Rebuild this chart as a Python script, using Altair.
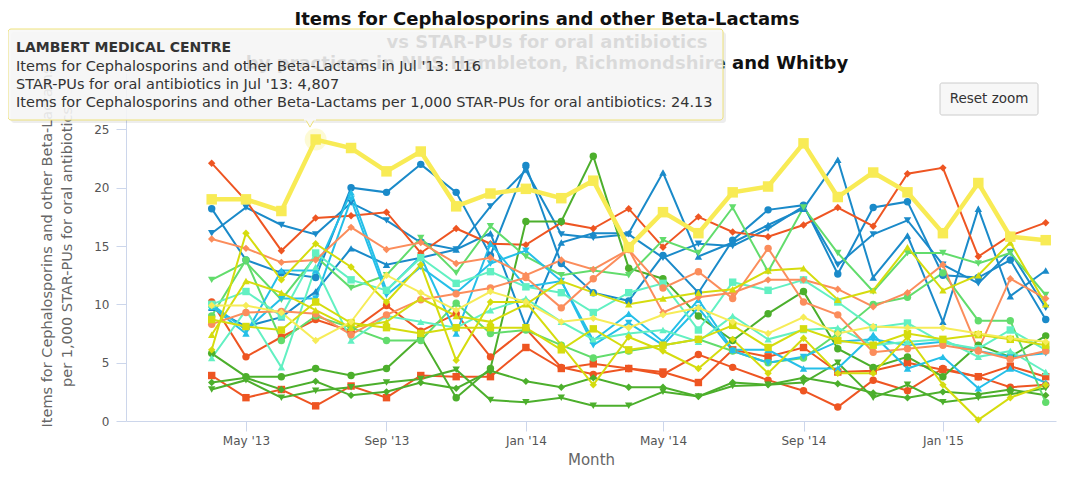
import altair as alt
import pandas as pd

# ---------------- data ----------------
months = ["2013-04-01", "2013-05-01", "2013-06-01", "2013-07-01", "2013-08-01",
          "2013-09-01", "2013-10-01", "2013-11-01", "2013-12-01", "2014-01-01",
          "2014-02-01", "2014-03-01", "2014-04-01", "2014-05-01", "2014-06-01",
          "2014-07-01", "2014-08-01", "2014-09-01", "2014-10-01", "2014-11-01",
          "2014-12-01", "2015-01-01", "2015-02-01", "2015-03-01", "2015-04-01"]

lambert = [19.0, 19.0, 18.0, 24.13, 23.4, 21.4, 23.1, 18.4, 19.5, 19.9, 19.1, 20.6, 14.9,
           17.9, 16.1, 19.6, 20.1, 23.8, 19.2, 21.3, 19.6, 16.1, 20.4, 15.8, 15.5]

blue_circle = [18.2, 13.8, 12.7, 12.3, 20.0, 19.6, 22.0, 19.6, 14.2, 21.9, 13.5, 11.0, 10.3,
               14.2, 11.0, 15.5, 18.1, 18.5, 12.6, 18.3, 18.8, 12.5, 12.3, 13.8, 8.7]
blue_tri_down = [16.1, 18.3, 16.8, 16.0, 18.7, 17.2, 15.3, 14.7, 18.4, 21.5, 16.0, 15.7, 16.0,
                 14.0, 15.2, 15.0, 16.5, 18.4, 13.4, 16.0, 17.2, 13.4, 11.8, 14.5, 9.7]
blue_tri = [9.7, 8.1, 8.9, 11.1, 14.8, 13.4, 14.0, 14.7, 16.1, 8.1, 15.3, 16.1, 16.1,
            21.3, 14.1, 15.3, 16.8, 18.2, 22.4, 12.3, 15.9, 8.5, 18.2, 10.7, 12.9]
red_diamond = [22.1, 18.9, 14.6, 17.4, 17.6, 17.9, 14.4, 16.5, 15.2, 15.1, 17.0, 16.5, 18.2,
               14.9, 17.5, 16.2, 15.8, 16.8, 18.3, 16.7, 21.2, 21.7, 14.1, 15.9, 17.0]
red_circle = [10.2, 5.5, 7.2, 8.7, 7.7, 9.9, 7.7, 9.2, 5.5, 7.9, 4.6, 4.0, 4.5,
              4.0, 5.7, 4.6, 3.5, 2.6, 1.2, 3.5, 2.6, 4.5, 3.8, 2.9, 3.1]
red_square = [3.9, 2.0, 2.7, 1.3, 3.0, 2.0, 3.9, 3.8, 3.8, 6.3, 4.5, 4.9, 4.5,
              4.2, 3.3, 6.1, 5.5, 6.3, 4.2, 4.3, 5.0, 4.4, 3.8, 4.7, 3.8]
green_circle = [5.8, 3.8, 3.8, 4.5, 3.9, 4.5, 7.2, 2.0, 4.5, 17.1, 17.1, 22.7, 13.1,
                12.2, 9.0, 6.9, 9.2, 11.1, 6.2, 4.6, 5.5, 3.8, 6.5, 5.5, 7.3]
green_diamond = [3.3, 3.7, 2.7, 3.4, 2.2, 2.5, 3.3, 2.8, 4.3, 3.4, 2.9, 3.7, 2.9,
                 2.9, 2.1, 3.3, 3.1, 3.7, 3.2, 2.4, 2.0, 2.5, 2.3, 2.7, 2.2]
green_tri_down = [2.7, 3.5, 2.0, 2.6, 2.9, 3.3, 3.6, 4.4, 1.8, 1.6, 2.0, 1.3, 1.3,
                  2.5, 2.1, 3.0, 3.1, 3.3, 5.0, 2.0, 3.1, 1.6, 2.0, 2.3, 2.8]
lgreen_tri_down = [12.1, 13.6, 10.4, 14.1, 11.4, 12.5, 15.7, 12.7, 16.7, 14.1, 12.5, 12.9, 12.5,
                   15.5, 14.4, 18.3, 12.8, 18.3, 14.4, 11.1, 14.4, 14.4, 13.5, 14.4, 10.8]
lgreen_circle = [9.0, 13.8, 6.9, 9.0, 8.0, 6.9, 6.9, 10.1, 7.5, 7.8, 6.5, 5.4, 6.0,
                 6.5, 7.0, 6.0, 5.0, 5.4, 7.5, 10.0, 10.6, 12.7, 8.6, 8.6, 1.6]
cyan_tri = [9.8, 7.5, 12.9, 12.9, 19.6, 11.2, 14.1, 7.5, 15.2, 11.5, 12.0, 6.9, 9.2,
            6.8, 10.4, 6.1, 6.1, 4.5, 4.5, 7.4, 4.5, 5.5, 2.8, 4.5, 3.3]
cyan_tri_down = [10.0, 7.8, 10.5, 10.5, 19.0, 10.8, 13.2, 11.0, 13.5, 14.6, 12.0, 6.5, 8.4,
                 6.5, 9.7, 6.0, 5.0, 5.5, 6.8, 7.0, 6.5, 6.8, 6.0, 5.5, 5.8]
mint_square = [10.0, 11.1, 9.0, 14.4, 12.1, 11.2, 14.0, 11.8, 12.8, 11.5, 11.0, 9.3, 11.0,
               11.8, 7.8, 11.9, 11.2, 12.1, 10.2, 8.0, 8.4, 6.7, 6.2, 7.8, 6.1]
mint_tri = [5.4, 9.5, 4.6, 13.2, 6.9, 9.0, 8.5, 8.0, 9.5, 10.5, 8.5, 7.0, 7.5,
            7.8, 6.8, 9.0, 7.0, 7.8, 8.0, 6.5, 6.8, 7.0, 5.5, 6.0, 4.2]
salmon_diamond = [15.6, 14.8, 13.6, 13.8, 16.6, 14.7, 15.3, 13.5, 14.0, 12.5, 13.8, 13.0, 14.7,
                  9.3, 10.6, 11.0, 12.1, 12.1, 11.3, 9.8, 11.0, 13.4, 6.1, 12.2, 10.5]
salmon_circle = [8.3, 9.3, 9.4, 9.2, 7.4, 9.1, 10.4, 10.9, 11.4, 12.3, 9.7, 12.2, 14.7,
                 11.4, 12.8, 10.5, 14.8, 10.2, 9.1, 5.9, 6.2, 6.5, 6.0, 5.3, 6.0]
olive_diamond = [6.1, 16.1, 12.1, 15.2, 13.2, 10.2, 13.4, 5.2, 10.2, 10.2, 6.5, 3.1, 7.2,
                 6.0, 4.5, 7.0, 4.1, 7.1, 4.1, 4.1, 7.2, 3.1, 0.1, 2.0, 3.1]
olive_square = [8.7, 8.1, 7.8, 10.2, 8.4, 8.0, 7.5, 8.0, 8.0, 8.0, 6.1, 7.9, 6.1,
                6.5, 7.0, 8.2, 6.3, 7.9, 6.9, 6.5, 7.5, 7.0, 7.4, 7.0, 6.5]
olive_tri = [7.4, 12.0, 11.0, 9.5, 8.0, 8.5, 10.5, 9.0, 8.5, 10.0, 12.0, 11.0, 10.0,
             10.5, 11.0, 11.3, 12.9, 13.1, 10.4, 11.2, 14.9, 11.2, 12.5, 15.3, 10.0]
yellow_diamond = [9.9, 9.9, 9.3, 6.9, 8.5, 12.5, 11.0, 9.5, 11.1, 10.2, 8.5, 8.8, 8.0,
                  9.1, 9.7, 8.5, 7.5, 8.9, 7.5, 8.1, 8.0, 8.0, 7.5, 7.1, 6.8]

series_names = ["Practice 01", "Practice 02", "Practice 03", "Practice 04", "Practice 05",
                "Practice 06", "Practice 07", "Practice 08", "Practice 09", "Practice 10",
                "Practice 11", "Practice 12", "Practice 13", "Practice 14", "Practice 15",
                "Practice 16", "Practice 17", "Practice 18", "Practice 19", "Practice 20",
                "Practice 21", "LAMBERT MEDICAL CENTRE"]
series_values = [blue_circle, blue_tri_down, blue_tri, red_diamond, red_circle, red_square,
                 green_circle, green_diamond, green_tri_down, lgreen_tri_down, lgreen_circle,
                 cyan_tri, cyan_tri_down, mint_square, mint_tri, salmon_diamond, salmon_circle,
                 olive_diamond, olive_square, olive_tri, yellow_diamond, lambert]
series_colors = ["#1a8ac9", "#1a8ac9", "#1a8ac9", "#ee5522", "#ee5522", "#ee5522",
                 "#4caf2c", "#4caf2c", "#4caf2c", "#62dc6c", "#62dc6c",
                 "#25bfe8", "#25bfe8", "#62f0c2", "#62f0c2", "#fb8d5c", "#fb8d5c",
                 "#d5dc0e", "#d5dc0e", "#d5dc0e", "#f6ec58", "#f8eb55"]
series_shapes = ["circle", "triangle-down", "triangle-up", "diamond", "circle", "square",
                 "circle", "diamond", "triangle-down", "triangle-down", "circle",
                 "triangle-up", "triangle-down", "square", "triangle-up", "diamond", "circle",
                 "diamond", "square", "triangle-up", "diamond", "square"]

title_lines = ["Items for Cephalosporins and other Beta-Lactams",
               "vs STAR-PUs for oral antibiotics",
               "by practices in NHS Hambleton, Richmondshire and Whitby"]
y_title_lines = ["Items for Cephalosporins and other Beta-Lactams",
                 "per 1,000 STAR-PUs for oral antibiotics"]
tooltip_lines = ["LAMBERT MEDICAL CENTRE",
                 "Items for Cephalosporins and other Beta-Lactams in Jul '13: 116",
                 "STAR-PUs for oral antibiotics in Jul '13: 4,807",
                 "Items for Cephalosporins and other Beta-Lactams per 1,000 STAR-PUs for oral antibiotics: 24.13"]
y_ticks = [0, 5, 10, 15, 20, 25]
y_max = 29.83

# ---------------- build table ----------------
rows = []
for name, vals in zip(series_names, series_values):
    for m, v in zip(months, vals):
        rows.append({"series": name, "month": m, "value": v})
df = pd.DataFrame(rows)
highlight = "LAMBERT MEDICAL CENTRE"
df_other = df[df.series != highlight]
df_hi = df[df.series == highlight]

FONT = "DejaVu Sans"
W, H = 930, 348
OX, OY = 126, 73   # page position of the plot origin


def px(x):
    return x - OX


def py(y):
    return y - OY


xenc = alt.X("month:T",
             scale=alt.Scale(type="utc",
                             domain=[alt.DateTime(year=2013, month=1, date=16, utc=True),
                                     alt.DateTime(year=2015, month=4, date=10, utc=True)]),
             axis=alt.Axis(values=[alt.DateTime(year=2013, month=5, date=1, utc=True),
                                   alt.DateTime(year=2013, month=9, date=1, utc=True),
                                   alt.DateTime(year=2014, month=1, date=1, utc=True),
                                   alt.DateTime(year=2014, month=5, date=1, utc=True),
                                   alt.DateTime(year=2014, month=9, date=1, utc=True),
                                   alt.DateTime(year=2015, month=1, date=1, utc=True)],
                           labelExpr="utcFormat(datum.value, \"%b '%y\")",
                           title="Month", grid=False, domainColor="#ccd6eb",
                           tickColor="#ccd6eb", tickSize=10, labelPadding=4,
                           labelFont=FONT, labelFontSize=12, labelColor="#555555",
                           titleFont=FONT, titleFontSize=15, titleFontWeight="normal",
                           titleColor="#666666", titlePadding=6))
yenc = alt.Y("value:Q",
             scale=alt.Scale(domain=[0, y_max], nice=False),
             axis=alt.Axis(values=y_ticks, grid=False, title=None, domainColor="#ccd6eb",
                           tickColor="#ccd6eb", tickSize=10, labelPadding=7,
                           labelFont=FONT, labelFontSize=12, labelColor="#555555"))
cenc = alt.Color("series:N", scale=alt.Scale(domain=series_names, range=series_colors),
                 legend=None)
senc = alt.Shape("series:N", scale=alt.Scale(domain=series_names, range=series_shapes),
                 legend=None)

lines = alt.Chart(df_other).mark_line(strokeWidth=2).encode(
    x=xenc, y=yenc, color=cenc, detail="series:N")
points = alt.Chart(df_other).mark_point(filled=True, size=55, opacity=1).encode(
    x=xenc, y=yenc, color=cenc, shape=senc)
hi_line = alt.Chart(df_hi).mark_line(strokeWidth=4.5).encode(
    x=xenc, y=yenc, color=cenc, detail="series:N")
halo = alt.Chart(df_hi).transform_filter(alt.datum.value == 24.13).mark_point(
    filled=True, size=480, opacity=0.25, shape="circle").encode(x=xenc, y=yenc, color=cenc)
hi_points = alt.Chart(df_hi).mark_point(filled=True, size=110, opacity=1).encode(
    x=xenc, y=yenc, color=cenc, shape=senc)

one = alt.Data(values=[{}])


def txt(text, x, y, size=12, weight="normal", color="#333333", align="left", angle=0):
    return alt.Chart(one).mark_text(font=FONT, fontSize=size, fontWeight=weight,
                                    color=color, align=align, baseline="middle",
                                    angle=angle).encode(
        text=alt.value(text), x=alt.value(px(x)), y=alt.value(py(y)))


def box(x1, x2, y1, y2, **kw):
    return alt.Chart(one).mark_rect(**kw).encode(
        x=alt.value(px(x1)), x2=alt.value(px(x2)), y=alt.value(py(y1)), y2=alt.value(py(y2)))


title_layers = [txt(title_lines[0], 547, 20, 18, "bold", "#111111", "center"),
                txt(title_lines[1], 547, 43, 18, "bold", "#111111", "center"),
                txt(title_lines[2], 547, 64, 18, "bold", "#111111", "center")]
ytitle_layers = [txt(y_title_lines[0], 48, 247, 14.5, "normal", "#666666", "center", 270),
                 txt(y_title_lines[1], 68, 247, 14.5, "normal", "#666666", "center", 270)]

# tooltip box
tip_shadow = box(11, 726, 32, 123, fill="#000000", opacity=0.07, cornerRadius=3)
tip_box = box(8, 723, 29, 120, fill="#f7f7f7", fillOpacity=0.88, stroke="#eee27a",
              strokeWidth=1, cornerRadius=3)
tip_ptr = alt.Chart(one).mark_point(shape="triangle-down", filled=True, size=90,
                                    fill="#f7f7f7", opacity=1, stroke="#eee27a",
                                    strokeWidth=1).encode(
    x=alt.value(px(310)), y=alt.value(py(123)))
tip_ptr_cover = box(304, 316, 118, 120.6, fill="#f7f7f7")
tip_text = [txt(tooltip_lines[0], 16, 48, 14, "bold", "#333333"),
            txt(tooltip_lines[1], 16, 67, 14.5, "normal", "#333333"),
            txt(tooltip_lines[2], 16, 85, 14.5, "normal", "#333333"),
            txt(tooltip_lines[3], 16, 103, 14.5, "normal", "#333333")]

# reset zoom button
btn = box(940, 1038, 83, 115, fill="#f7f7f7", stroke="#cccccc", strokeWidth=1, cornerRadius=2)
btn_text = txt("Reset zoom", 989, 99, 13.5, "normal", "#333333", "center")

chart = alt.layer(
    lines, points, hi_line, halo, hi_points,
    *title_layers, *ytitle_layers,
    tip_shadow, tip_box, tip_ptr, tip_ptr_cover, *tip_text,
    btn, btn_text
).properties(
    width=W, height=H,
    autosize=alt.AutoSizeParams(type="none"),
    padding={"left": OX - 8, "top": OY - 8, "right": 18, "bottom": 49},
    background="white"
).configure_view(stroke=None)

chart.save("out.html", embed_options={"renderer": "svg", "actions": False})
